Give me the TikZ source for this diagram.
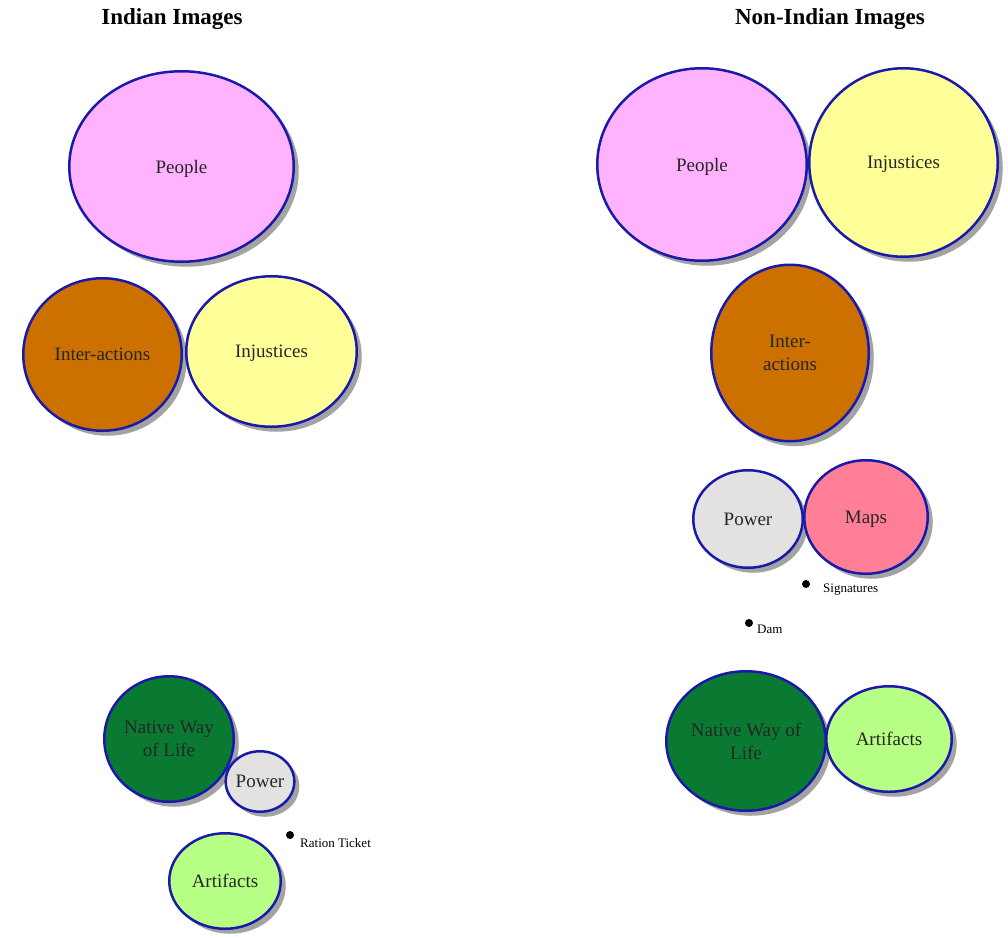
\documentclass[tikz,border=0pt]{standalone}
\usepackage{fontspec}
\setmainfont{Liberation Serif}
\usetikzlibrary{shapes.geometric,shadows}

\definecolor{rim}{HTML}{1A1AAA}
\definecolor{pplpink}{HTML}{FFB3FF}
\definecolor{injyellow}{HTML}{FFFF99}
\definecolor{intbrown}{HTML}{CC7000}
\definecolor{powgray}{HTML}{E4E1E1}
\definecolor{mapred}{HTML}{FF8096}
\definecolor{natgreen}{HTML}{0A7A32}
\definecolor{artgreen}{HTML}{B8FF85}

\tikzset{
  blob/.style={ellipse, draw=rim, line width=2.5pt, inner sep=0pt, align=center,
    text=black!85, text depth=0pt, font=\fontsize{19}{23}\selectfont,
    drop shadow={shadow xshift=5pt, shadow yshift=-5pt, fill=black!40, opacity=0.9}},
  head/.style={font=\fontsize{23}{27}\selectfont\bfseries},
  dot/.style={circle, fill=black, inner sep=0pt, minimum size=8pt},
  tag/.style={anchor=west, inner sep=0pt, font=\fontsize{13}{15}\selectfont}
}

\begin{document}
\begin{tikzpicture}[x=1pt,y=-1pt]
    \useasboundingbox (0,0) rectangle (1008,937);
    \node[head] (tind) at (172,19) {Indian Images};
    \node[head] (tnon) at (830,19) {Non-Indian Images};
    % name/x/y/rx/ry/colour/text
    \foreach \n/\x/\y/\rx/\ry/\c/\t in {
        ipeople/181.5/166.5/113.5/96.5/pplpink/People,
        iinter/102.5/354.5/80.5/77.5/intbrown/Inter-actions,
        iinjust/271.5/351.5/86.5/76.5/injyellow/Injustices,
        inative/169/739/66/64/natgreen/{Native Way\\of Life},
        ipower/260/781.5/35/31.5/powgray/Power,
        iartif/225/881/57/49/artgreen/Artifacts,
        npeople/702/164.5/106/97.5/pplpink/People,
        ninjust/903.5/162.5/95.5/95.5/injyellow/Injustices,
        ninter/790/353/80/89.5/intbrown/{Inter-\\actions},
        npower/748/519/56/50/powgray/Power,
        nmaps/866/517/63/58/mapred/Maps,
        nnative/746/741/81/71/natgreen/{Native Way of\\Life},
        nartif/889/739/64/54/artgreen/Artifacts}
      {\node[blob, fill=\c, minimum width={2*\rx-2.5}, minimum height={2*\ry-2.5}] (\n) at (\x,\y) {\t};}
    % loose items
    \node[dot] (ration) at (290,835) {};
    \node[tag] (rationl) at (300,843) {Ration Ticket};
    \node[dot] (sign) at (806,584) {};
    \node[tag] (signl) at (823,590) {Signatures};
    \node[dot] (dam) at (749,623) {};
    \node[tag] (daml) at (757,629) {Dam};
\end{tikzpicture}
\end{document}
